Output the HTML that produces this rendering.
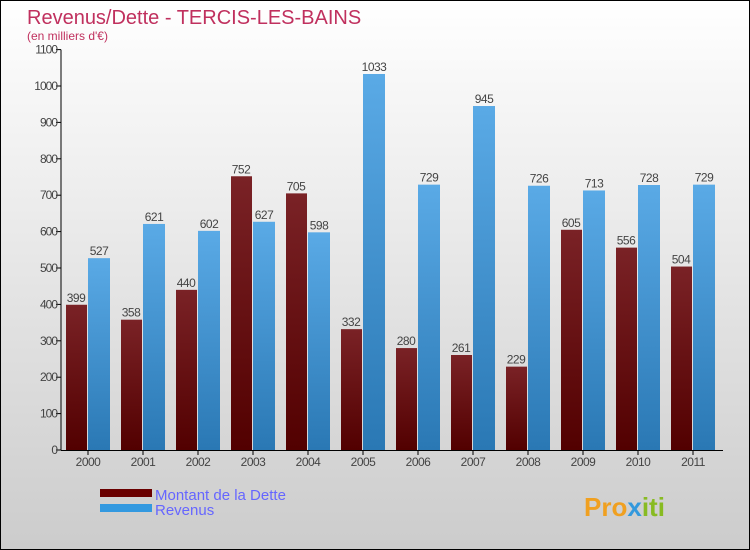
<!DOCTYPE html>
<html><head><meta charset="utf-8"><style>
body{margin:0}
#c{width:750px;height:550px;position:relative;box-sizing:border-box;border:1px solid #000;background:linear-gradient(#fff,#ccc);font-family:"Liberation Sans",sans-serif;overflow:hidden}
</style></head><body>
<div id="c">
<svg width="748" height="548" id="s">
<defs>
<linearGradient id="gd" x1="0" y1="0" x2="0" y2="1"><stop offset="0" stop-color="#7a2226"/><stop offset="1" stop-color="#520000"/></linearGradient>
<linearGradient id="gr" x1="0" y1="0" x2="0" y2="1"><stop offset="0" stop-color="#5aaae6"/><stop offset="1" stop-color="#2a78b4"/></linearGradient>
</defs>
<text x="26" y="23" font-size="20" fill="#c0305e">Revenus/Dette - TERCIS-LES-BAINS</text>
<text x="26" y="39" font-size="12" fill="#c0305e">(en milliers d'€)</text>
<g id="g"></g>
<rect x="99" y="488" width="52" height="8" fill="#6a0000"/>
<text x="154" y="499" font-size="15" fill="#6666ff">Montant de la Dette</text>
<rect x="99" y="503" width="52" height="8" fill="#3399e0"/>
<text x="154" y="514" font-size="15" fill="#6666ff">Revenus</text>
<text x="583" y="515" font-size="26" font-weight="bold" fill="#f0a020">Pro<tspan fill="#3399dd">x</tspan><tspan fill="#88bb22">iti</tspan></text>
</svg>
</div>
<script>
const years=["2000","2001","2002","2003","2004","2005","2006","2007","2008","2009","2010","2011"];
const dette=[399,358,440,752,705,332,280,261,229,605,556,504];
const revenus=[527,621,602,627,598,1033,729,945,726,713,728,729];
const ticks=[0,100,200,300,400,500,600,700,800,900,1000,1100];
const NS="http://www.w3.org/2000/svg";
const g=document.getElementById('g');
const y0=449,pxPer=364/1000;
function Y(v){return y0-v*pxPer;}
function X(i){return 65+55*i;}
function mk(t,a,txt){const e=document.createElementNS(NS,t);for(const k in a)e.setAttribute(k,a[k]);if(txt!=null)e.textContent=txt;g.appendChild(e);return e;}
ticks.forEach(t=>{
 const l=mk('line',{x1:55,x2:60,y1:Y(t),y2:Y(t),stroke:'#000'});
 
 
 const tx=mk('text',{x:56,y:Y(t)+4,'font-size':12,fill:'#444','text-anchor':'end','letter-spacing':'-1'},t);
 
 
});
years.forEach((yr,i)=>{
 const d=mk('rect',{x:X(i),y:Y(dette[i]),width:21,height:dette[i]*pxPer,fill:'url(#gd)'});
 
 
 const r=mk('rect',{x:X(i)+22,y:Y(revenus[i]),width:22,height:revenus[i]*pxPer,fill:'url(#gr)'});
 
 
 const dl=mk('text',{x:X(i)+10,y:Y(dette[i])-3,'font-size':12,fill:'#444','text-anchor':'middle','letter-spacing':'-0.5'},dette[i]);
 
 
 const rl=mk('text',{x:X(i)+33,y:Y(revenus[i])-3,'font-size':12,fill:'#444','text-anchor':'middle','letter-spacing':'-0.5'},revenus[i]);
 
 
 const tk=mk('line',{x1:X(i)+22,x2:X(i)+22,y1:y0,y2:y0+5,stroke:'#000'});
 
 
 const xl=mk('text',{x:X(i)+22,y:y0+16,'font-size':12,fill:'#444','text-anchor':'middle','letter-spacing':'-0.5'},yr);
 
 
});
const ya=mk('line',{x1:60,x2:60,y1:Y(1100),y2:y0+0.5,stroke:'#000'});


const xa=mk('line',{x1:60,x2:722,y1:y0+0.5,y2:y0+0.5,stroke:'#000'});


</script>
</body></html>
